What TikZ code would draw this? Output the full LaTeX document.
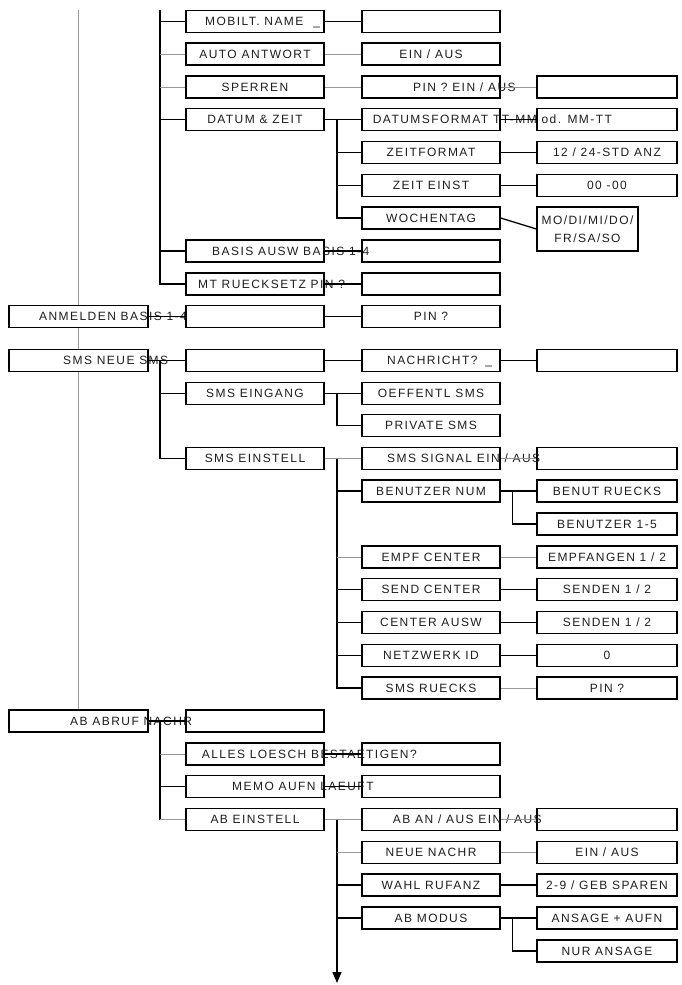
\documentclass[tikz,border=0pt]{standalone}
\usepackage{fontspec}
\setmainfont{Liberation Sans}[LetterSpace=12]
\usetikzlibrary{arrows.meta}
\definecolor{menuline}{RGB}{150,150,150}
\definecolor{menutext}{RGB}{30,30,30}

\begin{document}
\begin{tikzpicture}[x=1pt, y=-1pt,
  every node/.style={font=\fontsize{12}{18}\selectfont, text=menutext},
  menubox/.style={draw, line width=1.3pt, fill=white, minimum width=138pt, minimum height=22pt, inner sep=0pt, text height=8.6pt, text depth=0pt},
  leftbox/.style={menubox, minimum width=139pt},
  widebox/.style={menubox, minimum width=140pt},
  overtext/.style={anchor=base west, inner sep=0pt},
  strong/.style={line width=1.3pt},
  faint/.style={menuline, line width=0.9pt}]
\useasboundingbox (0,0) rectangle (682,985);

% Main line
\coordinate (maintop) at (78.5,10);
\coordinate (spinetop) at (160,10);
\draw[faint] (maintop) -- (78.5,710);

% Top menus
\node[leftbox] (anmelden) at (78.5,316.5) {};
\node[leftbox] (smsneue) at (78.5,360.5) {};
\node[leftbox] (abruf) at (78.5,721) {};

% Settings
\node[menubox] (mobname) at (255,21.5) {};
\node[menubox] (autoantw) at (255,54) {AUTO ANTWORT};
\node[menubox] (sperren) at (255,87) {SPERREN};
\node[menubox] (datum) at (255,119.5) {DATUM \& ZEIT};
\node[menubox] (basis) at (255,251) {};
\node[menubox] (mtreset) at (255,284) {};
\node[menubox] (anmeldenval) at (255,316.5) {};
\node[menubox] (smsneueval) at (255,360.5) {};
\node[menubox] (smsein) at (255,393.5) {SMS EINGANG};
\node[menubox] (smseinst) at (255,458.5) {SMS EINSTELL};
\node[menubox] (abrufval) at (255,721) {};
\node[menubox] (alles) at (255,754) {};
\node[menubox] (memo) at (255,786.5) {};
\node[menubox] (abeinst) at (255,819.5) {AB EINSTELL};

% Sub menus
\node[menubox] (mobval) at (431,21.5) {};
\node[menubox] (autoval) at (431,54) {EIN / AUS};
\node[menubox] (sperrval) at (431,87) {};
\node[menubox] (datfmt) at (431,119.5) {};
\node[menubox] (zeitfmt) at (431,152.5) {ZEITFORMAT};
\node[menubox] (zeiteinst) at (431,185.5) {ZEIT EINST};
\node[menubox] (wochentag) at (431,218) {WOCHENTAG};
\node[menubox] (basisval) at (431,251) {};
\node[menubox] (mtval) at (431,284) {};
\node[menubox] (anmeldpin) at (431,316.5) {PIN ?};
\node[menubox] (nachricht) at (431,360.5) {};
\node[menubox] (oeffentl) at (431,393.5) {OEFFENTL SMS};
\node[menubox] (privat) at (431,425.5) {PRIVATE SMS};
\node[menubox] (smssignal) at (431,458.5) {};
\node[menubox] (benutzer) at (431,491) {BENUTZER NUM};
\node[menubox] (empfcenter) at (431,557) {EMPF CENTER};
\node[menubox] (sendcenter) at (431,589.5) {SEND CENTER};
\node[menubox] (centerausw) at (431,622.5) {CENTER AUSW};
\node[menubox] (netzwerk) at (431,655.5) {NETZWERK ID};
\node[menubox] (smsrueck) at (431,688) {SMS RUECKS};
\node[menubox] (allesval) at (431,754) {};
\node[menubox] (memoval) at (431,786.5) {};
\node[menubox] (abanaus) at (431,819.5) {};
\node[menubox] (neuenachr) at (431,852.5) {NEUE NACHR};
\node[menubox] (wahl) at (431,885) {WAHL RUFANZ};
\node[menubox] (abmodus) at (431,918) {AB MODUS};

% Values
\node[widebox] (sperrres) at (607,87) {};
\node[widebox] (datres) at (607,119.5) {};
\node[widebox] (zeitres) at (607,152.5) {12 / 24-STD ANZ};
\node[widebox] (zeitval) at (607,185.5) {00 -00};
\node[draw, line width=1.3pt, fill=white, minimum width=101pt, minimum height=44pt, inner sep=0pt, align=center] (wotage) at (587.5,229) {MO/DI/MI/DO/\\FR/SA/SO};
\node[widebox] (nachrres) at (607,360.5) {};
\node[widebox] (signalres) at (607,458.5) {};
\node[widebox] (benrueck) at (607,491) {BENUT RUECKS};
\node[widebox] (ben15) at (607,524) {BENUTZER 1-5};
\node[widebox] (empfres) at (607,557) {EMPFANGEN 1 / 2};
\node[widebox] (sendres) at (607,589.5) {SENDEN 1 / 2};
\node[widebox] (centerres) at (607,622.5) {SENDEN 1 / 2};
\node[widebox] (netzres) at (607,655.5) {0};
\node[widebox] (smsrres) at (607,688) {PIN ?};
\node[widebox] (abanres) at (607,819.5) {};
\node[widebox] (neueres) at (607,852.5) {EIN / AUS};
\node[widebox] (wahlres) at (607,885) {2-9 / GEB SPAREN};
\node[widebox] (ansage) at (607,918) {ANSAGE + AUFN};
\node[widebox] (nuransage) at (607,951) {NUR ANSAGE};

% Texts running over the boxes
\node[overtext] (t1) at (39,320.8) {ANMELDEN BASIS 1-4};
\node[overtext] (t2) at (63,364.8) {SMS NEUE SMS};
\node[overtext] (t3) at (70,725.3) {AB ABRUF NACHR};
\node[overtext] (t4) at (205,25.8) {MOBILT. NAME\hspace{10pt}\_};
\node[overtext] (t5) at (212,255.3) {BASIS AUSW BASIS 1-4};
\node[overtext] (t6) at (198,288.3) {MT RUECKSETZ PIN ?};
\node[overtext] (t7) at (201.7,758.3) {ALLES LOESCH BESTAETIGEN?};
\node[overtext] (t8) at (232,790.8) {MEMO AUFN LAEUFT};
\node[overtext] (t9) at (413,91.3) {PIN ? EIN / AUS};
\node[overtext] (t10) at (372.7,123.8) {DATUMSFORMAT TT-MM od. MM-TT};
\node[overtext] (t11) at (387,364.8) {NACHRICHT?\hspace{8pt}\_};
\node[overtext] (t12) at (387,462.8) {SMS SIGNAL EIN / AUS};
\node[overtext] (t13) at (392.7,823.8) {AB AN / AUS EIN / AUS};

% Settings branch
\draw[strong] (spinetop) |- (mtreset.west);
\draw[strong] (mobname.west) -- (mobname.west -| spinetop);
\draw[faint] (autoantw.west) -- (autoantw.west -| spinetop);
\draw[faint] (sperren.west) -- (sperren.west -| spinetop);
\draw[strong] (datum.west) -- (datum.west -| spinetop);
\draw[strong] (basis.west) -- (basis.west -| spinetop);
\draw[strong] (mobname) -- (mobval);
\draw[faint] (autoantw) -- (autoval);
\draw[faint] (sperren) -- (sperrval);
\draw[faint] (sperrval) -- (sperrres);
\draw[strong] (datum) -- (datfmt);
\draw[strong] (datfmt) -- (datres);
\draw[strong] (basis) -- (basisval);
\draw[strong] (mtreset) -- (mtval);

% Date and time
\coordinate (datumfork) at (337,119.5);
\draw[strong] (datumfork) |- (wochentag.west);
\draw[strong] (zeitfmt.west) -- (zeitfmt.west -| datumfork);
\draw[strong] (zeiteinst.west) -- (zeiteinst.west -| datumfork);
\draw[strong] (zeitfmt) -- (zeitres);
\draw[strong] (zeiteinst) -- (zeitval);
\draw[strong] (wochentag.east) -- (wotage.west);

% Base
\draw[strong] (anmelden) -- (anmeldenval);
\draw[strong] (anmeldenval) -- (anmeldpin);

% SMS
\coordinate (smsfork) at (160,360.5);
\draw[strong] (smsneue) -- (smsneueval);
\draw[strong] (smsneueval) -- (nachricht);
\draw[strong] (nachricht) -- (nachrres);
\draw[strong] (smsfork) |- (smseinst.west);
\draw[strong] (smsein.west) -- (smsein.west -| smsfork);
\coordinate (einfork) at (337,393.5);
\draw[strong] (smsein) -- (oeffentl);
\draw[strong] (einfork) |- (privat.west);
\coordinate (einstfork) at (337,458.5);
\draw[faint] (smseinst) -- (smssignal);
\draw[faint] (smssignal) -- (signalres);
\draw[strong] (einstfork) |- (smsrueck.west);
\draw[strong] (benutzer.west) -- (benutzer.west -| einstfork);
\draw[faint] (empfcenter.west) -- (empfcenter.west -| einstfork);
\draw[strong] (sendcenter.west) -- (sendcenter.west -| einstfork);
\draw[strong] (centerausw.west) -- (centerausw.west -| einstfork);
\draw[strong] (netzwerk.west) -- (netzwerk.west -| einstfork);
\coordinate (benfork) at (512.7,491);
\draw[strong] (benutzer) -- (benrueck);
\draw[strong] (benfork) |- (ben15.west);
\draw[faint] (empfcenter) -- (empfres);
\draw[strong] (sendcenter) -- (sendres);
\draw[strong] (centerausw) -- (centerres);
\draw[strong] (netzwerk) -- (netzres);
\draw[faint] (smsrueck) -- (smsrres);

% Answering machine
\coordinate (abfork) at (160,721);
\draw[strong] (abruf) -- (abrufval);
\draw[strong] (abfork) -- (abfork |- abeinst.west);
\draw[faint] (alles.west) -- (alles.west -| abfork);
\draw[strong] (memo.west) -- (memo.west -| abfork);
\draw[faint] (abeinst.west) -- (abeinst.west -| abfork);
\draw[strong] (alles) -- (allesval);
\draw[strong] (memo) -- (memoval);
\coordinate (abeinstfork) at (337,819.5);
\coordinate (abend) at (337,983);
\draw[faint] (abeinst) -- (abanaus);
\draw[faint] (abanaus) -- (abanres);
\draw[strong, -{Triangle[width=9pt,length=11pt]}] (abeinstfork) -- (abend);
\draw[faint] (neuenachr.west) -- (neuenachr.west -| abeinstfork);
\draw[strong] (wahl.west) -- (wahl.west -| abeinstfork);
\draw[strong] (abmodus.west) -- (abmodus.west -| abeinstfork);
\draw[faint] (neuenachr) -- (neueres);
\draw[strong] (wahl) -- (wahlres);
\coordinate (modfork) at (512.7,918);
\draw[strong] (abmodus) -- (ansage);
\draw[strong] (modfork) |- (nuransage.west);
\end{tikzpicture}
\end{document}
